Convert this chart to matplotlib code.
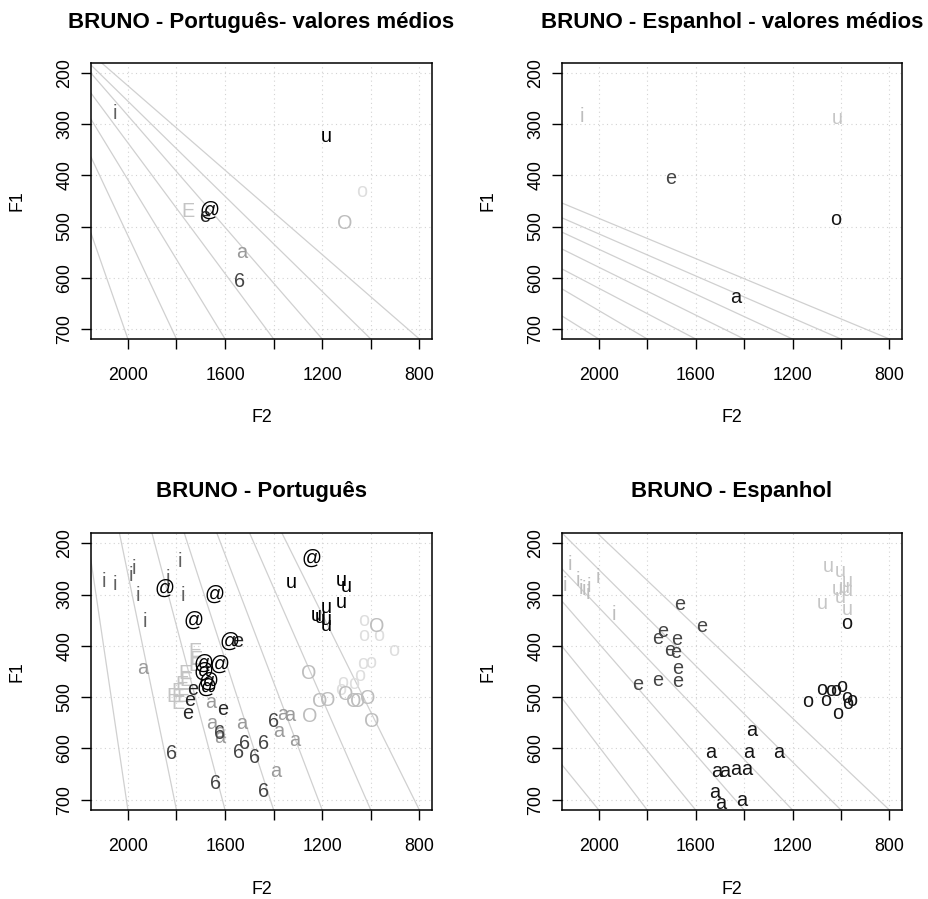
import matplotlib
matplotlib.use("Agg")
import matplotlib.pyplot as plt

plt.rcParams['font.family'] = ['Liberation Sans', 'DejaVu Sans']

# ---------------- axis ticks ----------------
x_ticks = [2000, 1800, 1600, 1400, 1200, 1000, 800]
x_ticklabels = ['2000', '', '1600', '', '1200', '', '800']
y_ticks = [200, 300, 400, 500, 600, 700]
y_ticklabels = ['200', '300', '400', '500', '600', '700']

titles = ['BRUNO - Português- valores médios', 'BRUNO - Espanhol - valores médios',
          'BRUNO - Português', 'BRUNO - Espanhol']

# ---------------- panel 1: Portuguese means ----------------
pt_mean_vowels = ['i', 'u', 'o', 'E', '@', 'e', 'O', 'a', '6']
pt_mean_f2 = [2053, 1182, 1038, 1751, 1665, 1685, 1108, 1532, 1541]
pt_mean_f1 = [278, 323, 432, 471, 469, 481, 494, 551, 608]

# ---------------- panel 2: Spanish means ----------------
es_mean_vowels = ['i', 'u', 'e', 'o', 'a']
es_mean_f2 = [2068, 1014, 1704, 1021, 1433]
es_mean_f1 = [284, 288, 406, 487, 639]

# ---------------- panel 3: Portuguese tokens ----------------
pt_i_f2 = [2101, 2053, 1987, 1975, 1960, 1930, 1836, 1786, 1775]
pt_i_f1 = [275, 281, 263, 249, 301, 352, 268, 235, 301]
pt_at_f2 = [1851, 1643, 1731, 1580, 1690, 1621, 1666, 1690, 1676, 1244]
pt_at_f1 = [287, 300, 350, 392, 433, 435, 469, 450, 480, 229]
pt_E_f2 = [1724, 1720, 1724, 1765, 1761, 1779, 1792, 1816, 1792, 1772]
pt_E_f1 = [411, 426, 439, 454, 467, 476, 489, 499, 512, 499]
pt_e_f2 = [1548, 1735, 1744, 1754, 1611]
pt_e_f1 = [391, 486, 506, 532, 524]
pt_a_f2 = [1941, 1658, 1655, 1621, 1624, 1532, 1363, 1333, 1378, 1315, 1390]
pt_a_f1 = [445, 511, 552, 569, 578, 552, 534, 535, 567, 584, 645]
pt_6_f2 = [1820, 1639, 1543, 1518, 1480, 1443, 1443, 1401, 1621]
pt_6_f1 = [610, 668, 608, 590, 617, 590, 684, 548, 571]
pt_u_f2 = [1326, 1120, 1102, 1120, 1182, 1223, 1209, 1182, 1182]
pt_u_f1 = [277, 272, 285, 316, 325, 340, 344, 348, 361]
pt_O_f2 = [976, 1257, 1253, 1209, 1179, 1102, 1072, 1054, 1013, 997]
pt_O_f1 = [363, 454, 538, 509, 506, 494, 509, 509, 502, 547]
pt_o_f2 = [1028, 1028, 966, 907, 1034, 1001, 1045, 1117, 1123, 1069]
pt_o_f1 = [350, 379, 379, 409, 434, 433, 458, 472, 485, 473]

# ---------------- panel 4: Spanish tokens ----------------
es_i_f2 = [2119, 2142, 2088, 2074, 2060, 2046, 2041, 2005, 1937]
es_i_f1 = [241, 283, 272, 288, 291, 298, 285, 267, 339]
es_e_f2 = [1666, 1577, 1735, 1758, 1680, 1707, 1684, 1676, 1758, 1838, 1676]
es_e_f1 = [320, 363, 372, 385, 387, 410, 413, 445, 467, 475, 469]
es_a_f2 = [1368, 1539, 1381, 1259, 1515, 1481, 1436, 1388, 1522, 1497, 1410]
es_a_f1 = [565, 608, 608, 608, 645, 645, 641, 641, 686, 707, 701]
es_u_f2 = [1051, 1001, 973, 1014, 987, 973, 1001, 1079, 976]
es_u_f1 = [246, 255, 275, 290, 286, 292, 305, 317, 330]
es_o_f2 = [976, 1138, 1079, 1062, 1042, 1021, 998, 976, 955, 973, 1014]
es_o_f1 = [357, 508, 486, 506, 487, 487, 480, 500, 506, 512, 532]

# ---------------- guide lines (start F2, start F1 -> end F2, end F1) ----------------
guide_end_f2 = [2000, 1800, 1600, 1400, 1200, 1000, 800]
guide1_start_f2 = [2152, 2152, 2152, 2152, 2152, 2152, 2108]
guide1_start_f1 = [513, 364, 290, 239, 200, 184, 180]
guide2_start_f2 = [2152, 2152, 2152, 2152, 2152, 2152, 2152]
guide2_start_f1 = [675, 622, 583, 544, 511, 483, 454]
guide3_start_f2 = [2169, 2035, 1901, 1768, 1634, 1499, 1366]
guide3_start_f1 = [180, 180, 180, 180, 180, 180, 180]
guide4_start_f2 = [2152, 2152, 2152, 2152, 2152, 2152, 2007]
guide4_start_f1 = [632, 502, 401, 313, 250, 180, 180]
guide_end_f1 = 720

# ---------------- colours per vowel ----------------
pt_colors = {'i': '#606060', 'e': '#262626', 'E': '#c4c4c4', 'a': '#9a9a9a', '6': '#454545',
             '@': '#000000', 'O': '#bdbdbd', 'o': '#dedede', 'u': '#000000'}
es_colors = {'i': '#bdbdbd', 'u': '#c6c6c6', 'e': '#454545', 'o': '#151515', 'a': '#151515'}

FW, FH = 929, 899
fig = plt.figure(figsize=(FW / 100, FH / 100), dpi=100)

def make_axes(left_px, top_px, w_px, h_px):
    return fig.add_axes([left_px / FW, 1 - (top_px + h_px) / FH, w_px / FW, h_px / FH])

panels = [make_axes(91, 63, 341, 276), make_axes(562, 63, 340, 276),
          make_axes(91, 533, 341, 277), make_axes(562, 533, 340, 277)]

guides = [(guide1_start_f2, guide1_start_f1), (guide2_start_f2, guide2_start_f1),
          (guide3_start_f2, guide3_start_f1), (guide4_start_f2, guide4_start_f1)]

LABEL_FS = 14.3
TICK_FS = 12.8
TITLE_FS = 16

for k, ax in enumerate(panels):
    ax.set_xlim(2152, 748)
    ax.set_ylim(720, 180)
    ax.set_xticks(x_ticks)
    ax.set_xticklabels(x_ticklabels, va='center')
    ax.set_yticks(y_ticks)
    ax.set_yticklabels(y_ticklabels, rotation=90, va='center', ha='center')
    ax.tick_params(axis='x', direction='out', length=7.2, width=1.0, labelsize=TICK_FS, pad=19.4)
    ax.tick_params(axis='y', direction='out', length=7.2, width=1.0, labelsize=TICK_FS, pad=11.5)
    for s in ax.spines.values():
        s.set_linewidth(1.1)
    ax.grid(True, color='#d3d3d3', linestyle=(0, (1, 3)), linewidth=0.8)
    ax.set_axisbelow(True)
    sf2, sf1 = guides[k]
    for x0, y0, x1 in zip(sf2, sf1, guide_end_f2):
        ax.plot([x0, x1], [y0, guide_end_f1], color='#d0d0d0', lw=0.9, zorder=1.5)
    h = ax.get_position().height * FH
    ax.text(0.5, 1 + 41 / h, titles[k], transform=ax.transAxes, ha='center', va='center',
            fontsize=TITLE_FS, fontweight='bold')
    ax.text(0.5, -79 / h, 'F2', transform=ax.transAxes, ha='center', va='center', fontsize=TICK_FS)
    ax.text(-74 / (ax.get_position().width * FW), 0.5, 'F1', transform=ax.transAxes,
            ha='center', va='center', rotation=90, fontsize=TICK_FS)

def draw_labels(ax, labels, f2, f1, colors):
    for lab, x, y in zip(labels, f2, f1):
        ax.text(x, y, lab, ha='center', va='center', color=colors[lab],
                fontsize=LABEL_FS, clip_on=True, zorder=3)

draw_labels(panels[0], pt_mean_vowels, pt_mean_f2, pt_mean_f1, pt_colors)
draw_labels(panels[1], es_mean_vowels, es_mean_f2, es_mean_f1, es_colors)

pt_sets = [('i', pt_i_f2, pt_i_f1), ('a', pt_a_f2, pt_a_f1), ('6', pt_6_f2, pt_6_f1),
           ('E', pt_E_f2, pt_E_f1), ('e', pt_e_f2, pt_e_f1), ('@', pt_at_f2, pt_at_f1),
           ('u', pt_u_f2, pt_u_f1), ('o', pt_o_f2, pt_o_f1), ('O', pt_O_f2, pt_O_f1)]
for lab, f2, f1 in pt_sets:
    draw_labels(panels[2], [lab] * len(f2), f2, f1, pt_colors)

es_sets = [('i', es_i_f2, es_i_f1), ('u', es_u_f2, es_u_f1), ('e', es_e_f2, es_e_f1),
           ('a', es_a_f2, es_a_f1), ('o', es_o_f2, es_o_f1)]
for lab, f2, f1 in es_sets:
    draw_labels(panels[3], [lab] * len(f2), f2, f1, es_colors)

fig.savefig('out.png', dpi=100)
